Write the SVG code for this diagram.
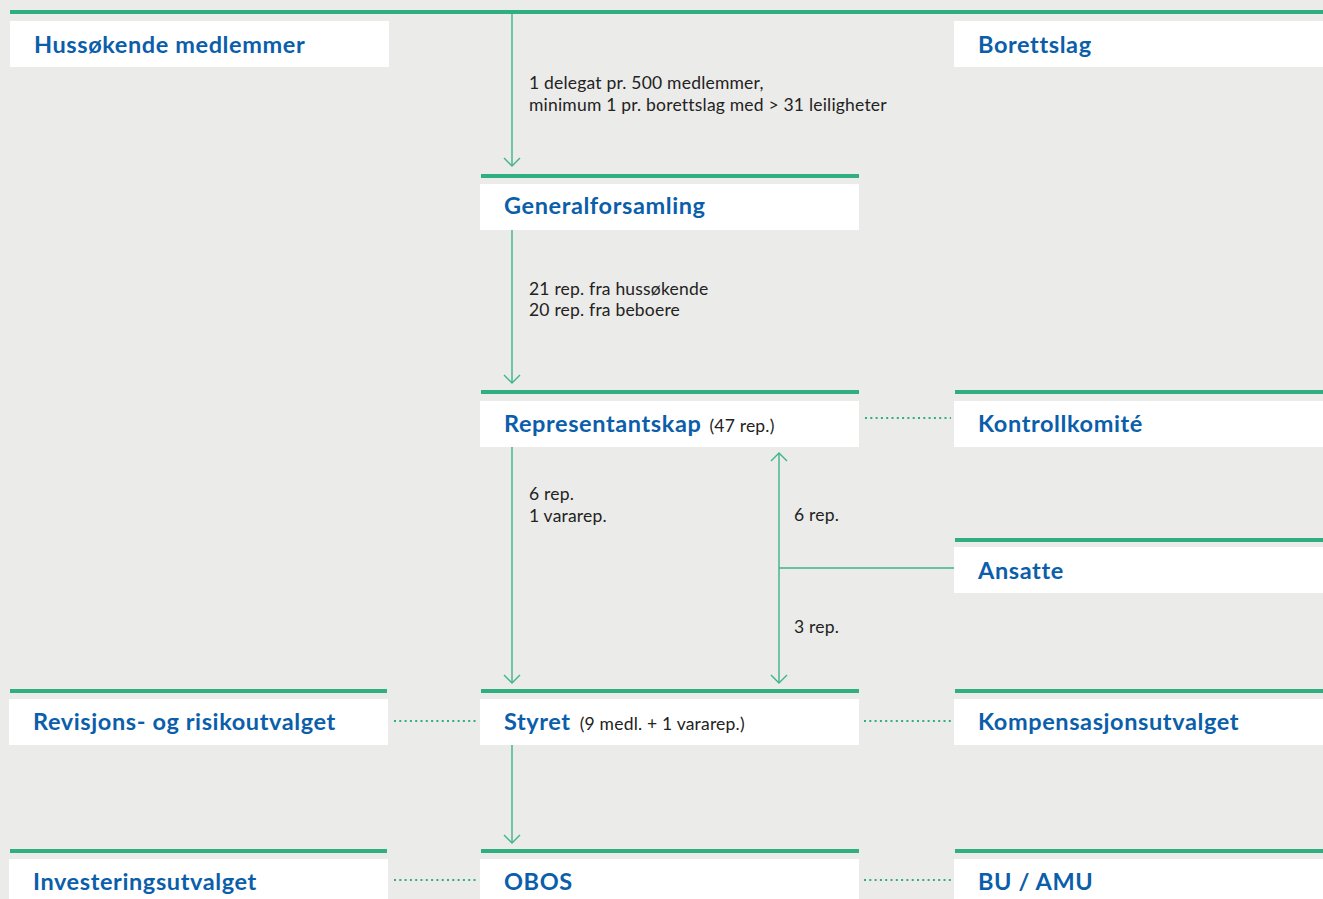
<svg xmlns="http://www.w3.org/2000/svg" width="1323" height="899" viewBox="0 0 1323 899">
<style>
.bg{fill:#EBEBE9}
.box{fill:#FFFFFF}
.bar{stroke:#2FAF80;stroke-width:4;fill:none}
.t{font-family:Lato,"Open Sans",sans-serif;font-weight:700;font-size:23.5px;fill:#0B5EAA;letter-spacing:0.6px}
.s{font-family:Lato,"Open Sans",sans-serif;font-size:17.5px;fill:#222222;letter-spacing:0.2px}
.ln{stroke:#3DB489;stroke-width:1.4;fill:none}
.dot{stroke:#2FAF80;stroke-width:2;stroke-dasharray:2 3.3;fill:none}
</style>
<rect class="bg" x="0" y="0" width="1323" height="899"/>
<line class="bar" x1="10" y1="12" x2="1323" y2="12"/>

<g id="hussokende">
<rect class="box" x="10" y="21" width="379" height="46"/>
<text class="t" x="34" y="53">Hussøkende medlemmer</text>
</g>
<g id="borettslag">
<rect class="box" x="954" y="21" width="369" height="46"/>
<text class="t" x="978" y="53">Borettslag</text>
</g>
<g id="generalforsamling">
<line class="bar" x1="481" y1="176" x2="859" y2="176"/>
<rect class="box" x="480" y="184" width="379" height="46"/>
<text class="t" x="504" y="214">Generalforsamling</text>
</g>
<g id="representantskap">
<line class="bar" x1="481" y1="392" x2="859" y2="392"/>
<rect class="box" x="480" y="401" width="379" height="46"/>
<text x="504" y="432"><tspan class="t">Representantskap</tspan><tspan class="s" dx="8">(47 rep.)</tspan></text>
</g>
<g id="kontrollkomite">
<line class="bar" x1="955" y1="392" x2="1323" y2="392"/>
<rect class="box" x="954" y="401" width="369" height="46"/>
<text class="t" x="978" y="432">Kontrollkomité</text>
</g>
<g id="ansatte">
<line class="bar" x1="955" y1="540" x2="1323" y2="540"/>
<rect class="box" x="954" y="547" width="369" height="46"/>
<text class="t" x="978" y="579">Ansatte</text>
</g>
<g id="revisjon">
<line class="bar" x1="10" y1="691" x2="387" y2="691"/>
<rect class="box" x="9" y="699" width="379" height="46"/>
<text class="t" x="33" y="730">Revisjons- og risikoutvalget</text>
</g>
<g id="styret">
<line class="bar" x1="481" y1="691" x2="859" y2="691"/>
<rect class="box" x="480" y="699" width="379" height="46"/>
<text x="504" y="730"><tspan class="t">Styret</tspan><tspan class="s" dx="9">(9 medl. + 1 vararep.)</tspan></text>
</g>
<g id="kompensasjon">
<line class="bar" x1="955" y1="691" x2="1323" y2="691"/>
<rect class="box" x="954" y="699" width="369" height="46"/>
<text class="t" x="978" y="730">Kompensasjonsutvalget</text>
</g>
<g id="investering">
<line class="bar" x1="10" y1="851" x2="387" y2="851"/>
<rect class="box" x="9" y="859" width="379" height="40"/>
<text class="t" x="33" y="890">Investeringsutvalget</text>
</g>
<g id="obos">
<line class="bar" x1="481" y1="851" x2="859" y2="851"/>
<rect class="box" x="480" y="859" width="379" height="40"/>
<text class="t" x="504" y="890">OBOS</text>
</g>
<g id="buamu">
<line class="bar" x1="955" y1="851" x2="1323" y2="851"/>
<rect class="box" x="954" y="859" width="369" height="40"/>
<text class="t" x="978" y="890">BU / AMU</text>
</g>

<g id="connectors">
<line class="ln" x1="512" y1="14" x2="512" y2="166"/>
<polyline class="ln" points="504,158 512,166 520,158"/>
<line class="ln" x1="512" y1="230" x2="512" y2="383"/>
<polyline class="ln" points="504,375 512,383 520,375"/>
<line class="ln" x1="512" y1="447" x2="512" y2="683"/>
<polyline class="ln" points="504,675 512,683 520,675"/>
<line class="ln" x1="779" y1="453" x2="779" y2="683"/>
<polyline class="ln" points="771,461 779,453 787,461"/>
<polyline class="ln" points="771,675 779,683 787,675"/>
<line class="ln" x1="779" y1="568" x2="954" y2="568"/>
<line class="ln" x1="512" y1="745" x2="512" y2="843"/>
<polyline class="ln" points="504,835 512,843 520,835"/>
<line class="dot" x1="865" y1="418" x2="951" y2="418"/>
<line class="dot" x1="394" y1="721" x2="477" y2="721"/>
<line class="dot" x1="864" y1="721" x2="951" y2="721"/>
<line class="dot" x1="394" y1="880" x2="477" y2="880"/>
<line class="dot" x1="864" y1="880" x2="951" y2="880"/>
<text class="s" x="529" y="89">1 delegat pr. 500 medlemmer,</text>
<text class="s" x="529" y="111">minimum 1 pr. borettslag med &gt; 31 leiligheter</text>
<text class="s" x="529" y="295">21 rep. fra hussøkende</text>
<text class="s" x="529" y="316">20 rep. fra beboere</text>
<text class="s" x="529" y="500">6 rep.</text>
<text class="s" x="529" y="522">1 vararep.</text>
<text class="s" x="794" y="521">6 rep.</text>
<text class="s" x="794" y="633">3 rep.</text>
</g>
</svg>
